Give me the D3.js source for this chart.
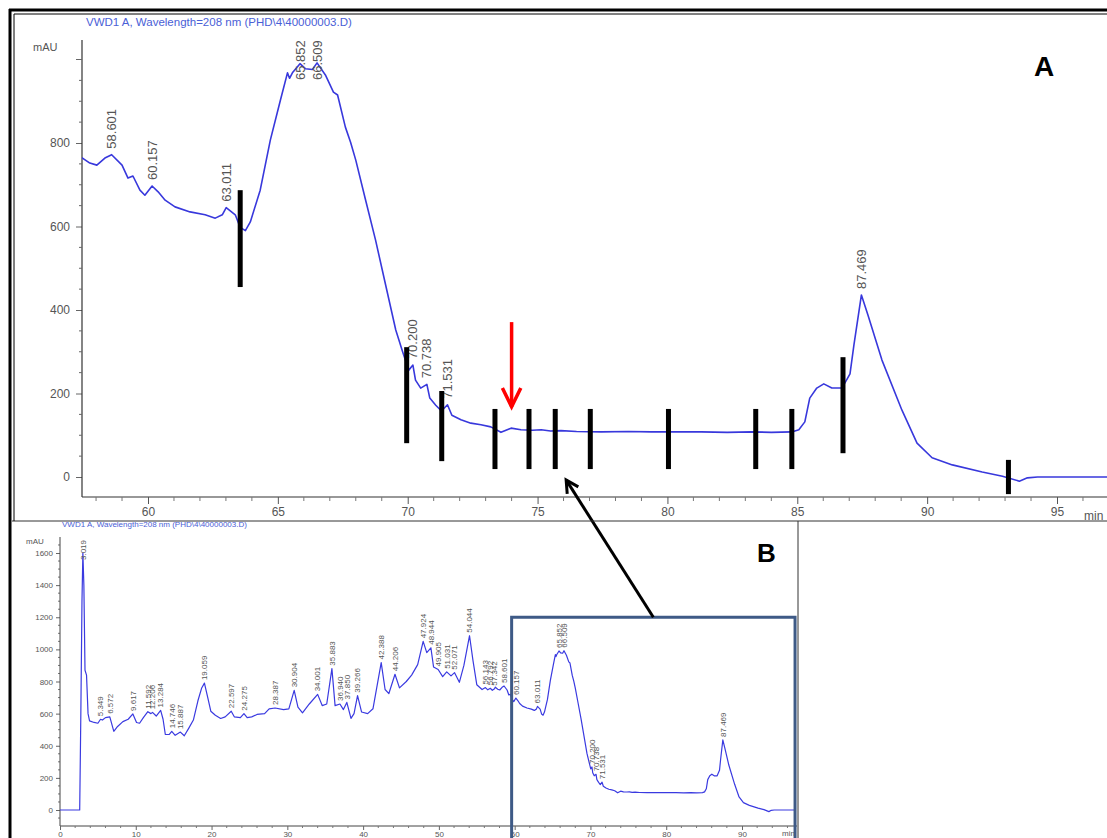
<!DOCTYPE html>
<html><head><meta charset="utf-8">
<script src="https://cdn.jsdelivr.net/npm/d3@7"></script>
<style>
html,body{margin:0;padding:0;background:#fff;overflow:hidden}
text{font-family:"Liberation Sans",Arial,sans-serif}
</style></head>
<body><svg id="c" width="1107" height="838"></svg>
<script>
// ---------- DATA ----------
const chartTitle = "VWD1 A, Wavelength=208 nm (PHD\\4\\40000003.D)";
const yUnit = "mAU";
const xUnit = "min";
// chromatogram: retention time (min) and absorbance (mAU)
const times = [0,2.6,2.75,2.9,3.019,3.15,3.3,3.5,3.7,3.9,4.5,5.0,5.349,5.6,6.0,6.572,7.1,7.6,8.3,9.0,9.617,10.1,10.5,11.0,11.592,12.0,12.206,12.7,13.284,13.6,13.9,14.4,14.746,15.2,15.887,16.4,17.0,17.6,18.2,18.7,19.059,19.5,19.9,20.5,21.2,21.8,22.597,23.0,23.8,24.275,24.7,25.3,26.0,27.0,27.6,28.387,29.5,30.2,30.904,31.4,32.0,32.9,34.001,34.6,35.2,35.883,36.3,36.94,37.4,37.85,38.4,38.8,39.266,39.8,40.6,41.3,42.388,42.9,43.4,44.206,44.8,45.7,46.4,47.2,47.924,48.4,48.944,49.3,49.905,50.5,51.031,51.6,52.071,52.7,53.3,54.044,54.5,55.0,55.7,56.143,56.45,56.792,57.05,57.342,57.45,57.76,58.03,58.34,58.601,59.0,59.23,59.42,59.69,59.88,60.157,60.39,60.66,61.04,61.62,62.2,62.59,62.86,63.011,63.36,63.55,63.75,63.94,64.32,64.71,65.1,65.37,65.45,65.56,65.852,66.06,66.33,66.509,66.83,67.14,67.3,67.6,67.8,68.0,68.38,68.76,69.15,69.54,69.81,70.04,70.2,70.3,70.5,70.738,70.85,71.08,71.3,71.531,71.7,72.05,72.43,72.82,73.2,73.59,73.98,74.36,74.8,75.14,75.5,75.9,76.5,77.45,78.5,79.38,80.5,81.3,82.3,83.24,84.0,84.79,85.06,85.29,85.48,85.75,86.02,86.33,86.72,87.03,87.18,87.469,87.72,88.26,89.03,89.61,90.19,90.97,92.12,92.9,93.55,93.86,94.25,97.0];
const signal = [0,0,600,1300,1600,1400,870,840,600,555,545,540,565,560,575,580,490,520,550,565,598,545,540,575,612,600,608,585,620,565,470,470,490,465,485,462,510,560,680,760,790,700,615,590,570,580,615,580,575,600,575,580,595,600,630,635,625,630,745,640,605,660,720,650,660,880,650,660,625,670,570,600,712,610,600,630,918,750,725,845,760,800,840,905,1050,980,1010,890,875,830,860,835,855,795,900,1085,930,780,750,762,748,758,745,755,765,752,747,764,772,747,716,721,687,675,697,683,663,647,635,628,620,628,645,628,598,590,611,687,807,903,968,955,968,990,978,976,992,963,922,915,838,802,759,663,568,460,352,299,256,268,232,213,222,189,172,158,173,148,137,129,125,120,107,117,113,112,113,110,111,109,108,109,108,108,108,107,108,107,108,113,132,189,213,223,213,213,247,316,436,388,280,160,81,46,29,12,2,-10,-2,0,0];
// labelled peaks
const peaksA = [58.601,60.157,63.011,65.852,66.509,70.200,70.738,71.531,87.469];
const peaksB = [3.019,5.349,6.572,9.617,11.592,12.206,13.284,14.746,15.887,19.059,22.597,24.275,28.387,30.904,34.001,35.883,36.940,37.850,39.266,42.388,44.206,47.924,48.944,49.905,51.031,52.071,54.044,56.143,56.792,57.342,58.601,60.157,63.011,65.852,66.509,70.200,70.738,71.531,87.469];
// tick labels
const xTicksA = [60,65,70,75,80,85,90,95];
const yTicksA = [0,200,400,600,800];
const xTicksB = [0,10,20,30,40,50,60,70,80,90];
const yTicksB = [0,200,400,600,800,1000,1200,1400,1600];
// fraction markers drawn on panel A: time, lower mAU, upper mAU
const markTimes = [63.55,69.96,71.31,73.36,74.67,75.68,77.03,80.04,83.40,84.79,86.76,93.13];
const markLow   = [455,81,38,19,19,19,19,19,19,19,57,-41];
const markHigh  = [687,311,206,163,163,163,163,163,163,163,287,41];
// red arrow: time, from mAU, to mAU
const redArrow = {t:74.0, from:371, to:168};
// zoom box on B (time range, top mAU) and link arrow tip on A (time, mAU)
const zoomBox = {t0:59.6, t1:97.0, top:1200};
const linkTip = {t:76.1, v:-7};
const linkTailT = 78.3;

// ---------- DRAW ----------
const svg = d3.select("#c");
const W = 1107, H = 838;
const pts = times.map((t,i)=>({t, v:signal[i]}));
const bis = d3.bisector(d=>d.t).left;
function valueAt(t){
  const i = bis(pts,t);
  if(i<=0) return pts[0].v;
  if(i>=pts.length) return pts[pts.length-1].v;
  const a=pts[i-1], b=pts[i];
  return a.v + (b.v-a.v)*(t-a.t)/(b.t-a.t);
}
function arrow(g,x1,y1,x2,y2,color,w,head,spread){
  const ang = Math.atan2(y2-y1,x2-x1);
  g.append("line").attr("x1",x1).attr("y1",y1).attr("x2",x2).attr("y2",y2)
    .attr("stroke",color).attr("stroke-width",w).attr("stroke-linecap","butt");
  const s = spread*Math.PI/180;
  const p = d3.path();
  p.moveTo(x2-head*Math.cos(ang-s), y2-head*Math.sin(ang-s));
  p.lineTo(x2,y2);
  p.lineTo(x2-head*Math.cos(ang+s), y2-head*Math.sin(ang+s));
  g.append("path").attr("d",p.toString()).attr("fill","none").attr("stroke",color)
    .attr("stroke-width",w).attr("stroke-linejoin","miter");
}

// ===== Panel A =====
const xA = d3.scaleLinear().domain([60,95]).range([148,1057]);
const yA = d3.scaleLinear().domain([0,800]).range([477,143]);
const axA = {left:82, bottom:497, top:40, right:W};

svg.append("defs").html(
  `<clipPath id="clipA"><rect x="${axA.left}" y="30" width="${W-axA.left}" height="${axA.bottom-30}"/></clipPath>
   <clipPath id="clipB"><rect x="60" y="530" width="738" height="296"/></clipPath>`);

const gA = svg.append("g");
gA.append("text").attr("x",86).attr("y",26).attr("font-size",11.5).attr("fill","#4a60d6").text(chartTitle);
gA.append("text").attr("x",33).attr("y",51).attr("font-size",11).attr("fill","#555").text(yUnit);

// y axis A
const yAxA = d3.axisLeft(yA).tickValues(yTicksA).tickSize(6).tickFormat(d3.format("d"));
const gyA = gA.append("g").attr("transform",`translate(${axA.left},0)`).call(yAxA);
gyA.select(".domain").remove();
gyA.selectAll("text").attr("font-size",12).attr("fill","#555").attr("x",-12);
gyA.selectAll("line").attr("stroke","#666");
gA.append("line").attr("x1",axA.left).attr("x2",axA.left).attr("y1",axA.top).attr("y2",axA.bottom).attr("stroke","#333").attr("stroke-width",1.2);
d3.range(-50,1051,50).forEach(v=>{
  if(yA(v)<axA.top||yA(v)>axA.bottom) return;
  const major = v%200===0;
  if(major && v<=800) return;
  gA.append("line").attr("x1",axA.left-(v===1000?6:3)).attr("x2",axA.left).attr("y1",yA(v)).attr("y2",yA(v)).attr("stroke","#666");
});

// x axis A
gA.append("line").attr("x1",axA.left).attr("x2",W).attr("y1",axA.bottom).attr("y2",axA.bottom).attr("stroke","#333").attr("stroke-width",1.2);
const xAxA = d3.axisBottom(xA).tickValues(xTicksA).tickSize(7).tickFormat(d3.format("d"));
const gxA = gA.append("g").attr("transform",`translate(0,${axA.bottom})`).call(xAxA);
gxA.select(".domain").remove();
gxA.selectAll("text").attr("font-size",12).attr("fill","#555").attr("y",10);
gxA.selectAll("line").attr("stroke","#555");
d3.range(58,98,1).forEach(t=>{
  if(t%5===0) return;
  gA.append("line").attr("x1",xA(t)).attr("x2",xA(t)).attr("y1",axA.bottom).attr("y2",axA.bottom+4).attr("stroke","#777");
});
gA.append("text").attr("x",1084).attr("y",520).attr("font-size",12).attr("fill","#555").text(xUnit);

// trace A
const lineA = d3.line().x(d=>xA(d.t)).y(d=>yA(d.v));
gA.append("path").datum(pts.filter(d=>d.t>=57)).attr("d",lineA).attr("clip-path","url(#clipA)")
  .attr("fill","none").attr("stroke","#3838dc").attr("stroke-width",1.6).attr("stroke-linejoin","round");

// peak labels A
peaksA.forEach(t=>{
  const yb = Math.max(yA(valueAt(t))-6, 38+42);
  gA.append("text").attr("transform",`translate(${xA(t)},${yb}) rotate(-90)`).attr("dy","0.35em")
    .attr("font-size",13).attr("fill","#555").text(t.toFixed(3));
});

// fraction markers
markTimes.forEach((t,i)=>{
  gA.append("line").attr("x1",xA(t)).attr("x2",xA(t)).attr("y1",yA(markHigh[i])).attr("y2",yA(markLow[i]))
    .attr("stroke","#000").attr("stroke-width",5);
});
arrow(gA, xA(redArrow.t), yA(redArrow.from), xA(redArrow.t), yA(redArrow.to), "#ff0000", 3.5, 21, 26);

gA.append("text").attr("x",1034).attr("y",76).attr("font-size",28).attr("font-weight","bold").attr("fill","#000").text("A");

// ===== Panel B =====
const xB = d3.scaleLinear().domain([0,90]).range([60,742]);
const yB = d3.scaleLinear().domain([0,1600]).range([810,553]);
const axB = {left:60, bottom:826, top:537, right:797};
const gB = svg.append("g");

gB.append("rect").attr("x",12).attr("y",521).attr("width",786).attr("height",H-521).attr("fill","#fff");
gB.append("text").attr("x",62).attr("y",527).attr("font-size",8).attr("fill","#4a60d6").text(chartTitle);
gB.append("text").attr("x",26).attr("y",544).attr("font-size",8).attr("fill","#555").text(yUnit);

const yAxB = d3.axisLeft(yB).tickValues(yTicksB).tickSize(4).tickFormat(d3.format("d"));
const gyB = gB.append("g").attr("transform",`translate(${axB.left},0)`).call(yAxB);
gyB.select(".domain").remove();
gyB.selectAll("text").attr("font-size",8).attr("fill","#555").attr("x",-7);
gyB.selectAll("line").attr("stroke","#666");
d3.range(-100,1700,50).forEach(v=>{
  if(v%200===0||yB(v)<axB.top||yB(v)>axB.bottom) return;
  gB.append("line").attr("x1",axB.left-2).attr("x2",axB.left).attr("y1",yB(v)).attr("y2",yB(v)).attr("stroke","#777");
});
gB.append("line").attr("x1",axB.left).attr("x2",axB.left).attr("y1",axB.top).attr("y2",axB.bottom).attr("stroke","#444");
gB.append("line").attr("x1",axB.left).attr("x2",axB.right).attr("y1",axB.bottom).attr("y2",axB.bottom).attr("stroke","#444");
const xAxB = d3.axisBottom(xB).tickValues(xTicksB).tickSize(4).tickFormat(d3.format("d"));
const gxB = gB.append("g").attr("transform",`translate(0,${axB.bottom})`).call(xAxB);
gxB.select(".domain").remove();
gxB.selectAll("text").attr("font-size",8).attr("fill","#555").attr("y",5);
gxB.selectAll("line").attr("stroke","#666");
d3.range(0,98,2).forEach(t=>{
  if(t%10===0) return;
  gB.append("line").attr("x1",xB(t)).attr("x2",xB(t)).attr("y1",axB.bottom).attr("y2",axB.bottom+2).attr("stroke","#777");
});
gB.append("text").attr("x",782).attr("y",836).attr("font-size",8).attr("fill","#555").text(xUnit);

const lineB = d3.line().x(d=>xB(d.t)).y(d=>yB(d.v));
gB.append("path").datum(pts).attr("d",lineB).attr("clip-path","url(#clipB)")
  .attr("fill","none").attr("stroke","#3a3ae0").attr("stroke-width",1.2).attr("stroke-linejoin","round");

peaksB.forEach(t=>{
  const yb = Math.max(yB(valueAt(t))-3, 536+24);
  gB.append("text").attr("transform",`translate(${xB(t)},${yb}) rotate(-90)`).attr("dy","0.35em")
    .attr("font-size",8).attr("fill","#555").text(t.toFixed(3));
});

// zoom box
gB.append("rect").attr("x",xB(zoomBox.t0)).attr("y",yB(zoomBox.top))
  .attr("width",xB(zoomBox.t1)-xB(zoomBox.t0)).attr("height",H-yB(zoomBox.top)+10)
  .attr("fill","none").attr("stroke","#3e5a86").attr("stroke-width",3);
gB.append("text").attr("x",757).attr("y",562).attr("font-size",26).attr("font-weight","bold").attr("fill","#000").text("B");

// link arrow from B box to A
arrow(svg, xB(linkTailT), yB(zoomBox.top), xA(linkTip.t), yA(linkTip.v), "#000", 3, 14, 28);

// ===== frames =====
const fr = svg.append("g");
fr.append("line").attr("x1",12).attr("x2",W).attr("y1",521).attr("y2",521).attr("stroke","#333").attr("stroke-width",1);
fr.append("line").attr("x1",798).attr("x2",798).attr("y1",521).attr("y2",H).attr("stroke","#333").attr("stroke-width",1);
fr.append("line").attr("x1",9).attr("x2",W).attr("y1",10).attr("y2",10).attr("stroke","#000").attr("stroke-width",3);
fr.append("line").attr("x1",10).attr("x2",10).attr("y1",9).attr("y2",H).attr("stroke","#000").attr("stroke-width",3);
fr.append("line").attr("x1",14).attr("x2",W).attr("y1",14).attr("y2",14).attr("stroke","#000").attr("stroke-width",1);
fr.append("line").attr("x1",14).attr("x2",14).attr("y1",14).attr("y2",521).attr("stroke","#000").attr("stroke-width",1);
</script></body></html>
